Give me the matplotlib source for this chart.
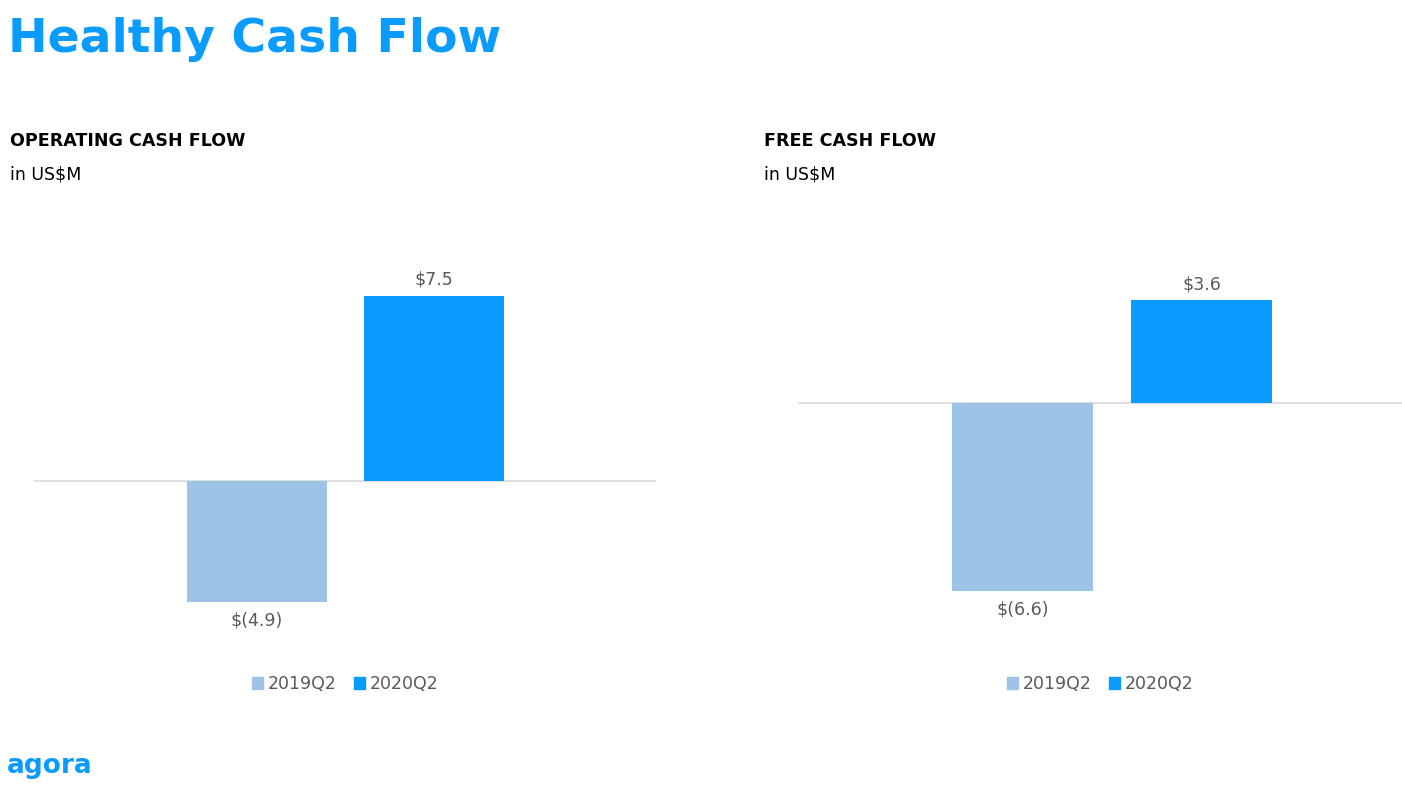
import matplotlib
matplotlib.use("Agg")
import matplotlib.pyplot as plt

# data (US$M)
series = ["2019Q2", "2020Q2"]
ocf = [-4.9, 7.5]
fcf = [-6.6, 3.6]
ocf_labels = ["$(4.9)", "$7.5"]
fcf_labels = ["$(6.6)", "$3.6"]

C_LIGHT = "#9DC3E6"
C_BLUE = "#0A9BFF"
C_TXT = "#595959"

W, H = 1402, 793
fig = plt.figure(figsize=(W / 100, H / 100), dpi=100)
fig.patch.set_facecolor("white")


def px_axes(x0, x1, y0, y1):
    # pixel box (top-left origin) -> axes
    return fig.add_axes([x0 / W, 1 - y1 / H, (x1 - x0) / W, (y1 - y0) / H])


def panel(ax, vals, labels, zero_px, top_px, bot_px, ppu, xl, xr):
    ax.bar([0, 1], vals, width=0.79, color=[C_LIGHT, C_BLUE], zorder=2)
    ax.axhline(0, color="#D9D9D9", lw=1.2, zorder=1)
    ax.set_xlim(xl, xr)
    ax.set_ylim(-(bot_px - zero_px) / ppu, (zero_px - top_px) / ppu)
    for i, (v, lab) in enumerate(zip(vals, labels)):
        ax.annotate(lab, (i, v), xytext=(0, 5 if v > 0 else -7),
                    textcoords="offset points", ha="center",
                    va="bottom" if v > 0 else "top", fontsize=12.5, color=C_TXT)
    ax.axis("off")
    hs = [plt.Rectangle((0, 0), 1, 1, color=c) for c in (C_LIGHT, C_BLUE)]
    ax.legend(hs, series, loc="center", bbox_to_anchor=(0.5, (bot_px - 684) / (bot_px - top_px)),
              ncol=2, frameon=False, handlelength=0.65, handleheight=0.65,
              handletextpad=0.25, columnspacing=1.0, fontsize=12.5,
              labelcolor=C_TXT)


ax1 = px_axes(34, 656, 230, 660)
panel(ax1, ocf, ocf_labels, 481, 230, 660, 24.7, -1.26, 2.254)

ax2 = px_axes(798, 1402, 230, 660)
panel(ax2, fcf, fcf_labels, 403, 230, 660, 28.5, -1.26, 2.123)

fig.text(8 / W, 1 - 40 / H, "Healthy Cash Flow", fontsize=34, fontweight="bold",
         color=C_BLUE, va="center", ha="left")
fig.text(10 / W, 1 - 141 / H, "OPERATING CASH FLOW", fontsize=12.6,
         fontweight="bold", color="black", va="center")
fig.text(10 / W, 1 - 175 / H, "in US$M", fontsize=12.5, color="black", va="center")
fig.text(764 / W, 1 - 141 / H, "FREE CASH FLOW", fontsize=12.6,
         fontweight="bold", color="black", va="center")
fig.text(764 / W, 1 - 175 / H, "in US$M", fontsize=12.5, color="black", va="center")
fig.text(7 / W, 1 - 766 / H, "agora", fontsize=19, fontweight="bold",
         color=C_BLUE, va="center")

fig.savefig("out.png", dpi=100)
